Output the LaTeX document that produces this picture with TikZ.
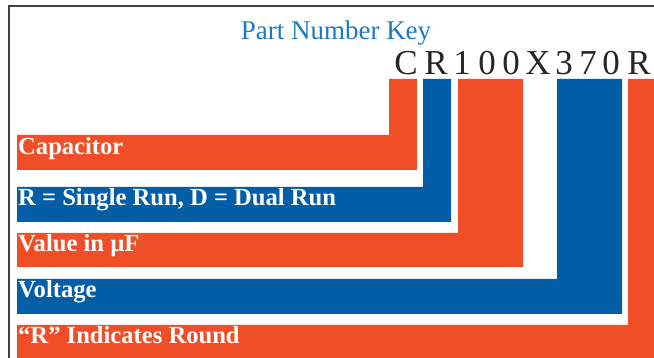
\documentclass[tikz,border=0pt]{standalone}
\usepackage{fontspec}
\setmainfont{Liberation Serif}
\definecolor{keyorange}{RGB}{240,78,39}
\definecolor{keyblue}{RGB}{2,94,166}
\definecolor{titleblue}{RGB}{28,122,192}
\tikzset{
  tag/.style = {anchor=base west, inner sep=0pt, text=white, font=\bfseries\fontsize{24.6}{24.6}\selectfont},
  code/.style = {anchor=base, inner sep=0pt, text=black!85, font=\fontsize{35}{35}\selectfont},
}
\begin{document}
\begin{tikzpicture}[x=1pt, y=-1pt]
\useasboundingbox (0,0) rectangle (654,358);
\draw[black!75, line width=1.2pt] (9,358) -- (9,6) -- (654,6);
\node[anchor=base, inner sep=0pt, text=titleblue, font=\fontsize{27}{27}\selectfont] (title) at (336,40) {Part Number Key};
\foreach \c/\x [count=\i] in {C/406, R/436, 1/462, 0/487, 0/511, X/538, 3/564, 7/588, 0/611, R/639}
  \node[code] (k\i) at (\x,75) {\c};
% L-shaped bars: left, right of the upright, top and bottom of the row
\foreach \a/\b/\t/\u/\col in {389/417/135/170/keyorange, 423/451/187/222/keyblue, 458/523/233/267/keyorange, 557/622/279/314/keyblue, 628/654/325/358/keyorange}
  \fill[\col] (\a,79) -- (\b,79) -- (\b,\u) -- (17,\u) -- (17,\t) -- (\a,\t) -- cycle;
\node[tag] (cap) at (18,155) {Capacitor};
\node[tag] (run) at (18,206) {R = Single Run, D = Dual Run};
\node[tag] (val) at (18,252) {Value in µF};
\node[tag] (volt) at (18,298) {Voltage};
\node[tag] (round) at (18,344) {“R” Indicates Round};
\end{tikzpicture}
\end{document}
